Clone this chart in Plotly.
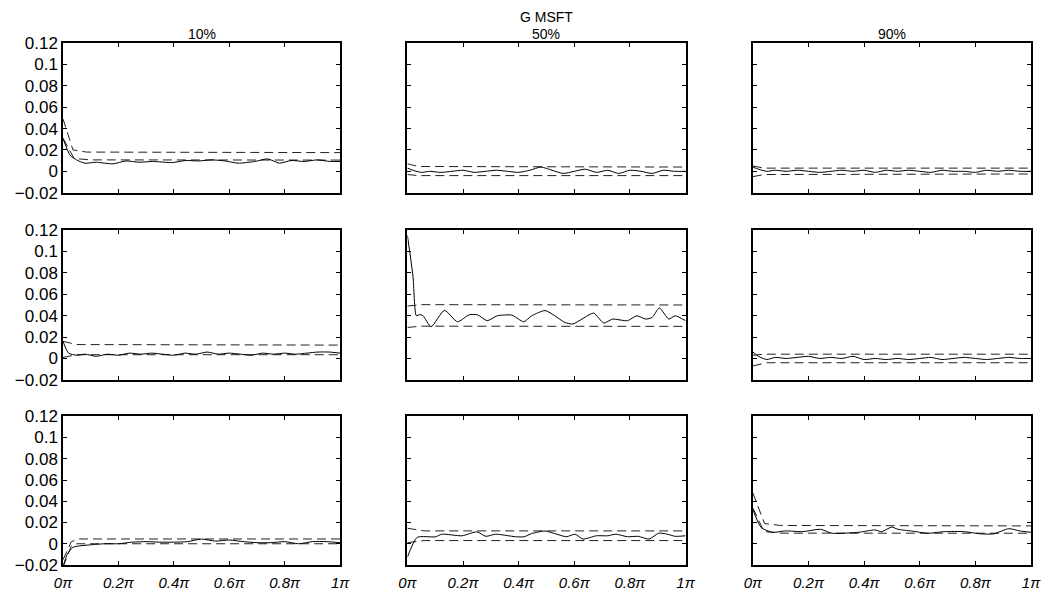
import plotly.graph_objects as go

# ---------------- data ----------------
col_titles = ["10%", "50%", "90%"]
main_title = "G MSFT"
x_tickvals = [0, 0.2, 0.4, 0.6, 0.8, 1.0]
x_ticktext = ["0π", "0.2π", "0.4π", "0.6π", "0.8π", "1π"]
y_tickvals = [-0.02, 0, 0.02, 0.04, 0.06, 0.08, 0.1, 0.12]
y_ticktext = ["−0.02", "0", "0.02", "0.04", "0.06", "0.08", "0.1", "0.12"]

# row 1, col 1
r1c1_x = [0, 0.025, 0.049, 0.079, 0.12, 0.18, 0.227, 0.275, 0.323, 0.394, 0.442, 0.489, 0.537,
          0.585, 0.632, 0.692, 0.739, 0.781, 0.823, 0.87, 0.918, 0.964, 1.0]
r1c1_est = [0.0307, 0.0153, 0.0107, 0.0076, 0.0085, 0.007, 0.0097, 0.0085, 0.0092, 0.0082, 0.0101,
            0.0097, 0.0107, 0.0097, 0.0076, 0.0092, 0.0116, 0.0076, 0.0101, 0.0092, 0.0107, 0.0092, 0.0092]
r1c1_up_x = [0, 0.036, 0.085, 1.0]
r1c1_up = [0.049, 0.020, 0.018, 0.0175]
r1c1_lo_x = [0, 0.04, 0.1, 1.0]
r1c1_lo = [0.031, 0.012, 0.0107, 0.0105]

# row 1, col 2
r1c2_x = [0, 0.02, 0.05, 0.08, 0.12, 0.16, 0.2, 0.24, 0.28, 0.32, 0.36, 0.4, 0.44, 0.48, 0.52,
          0.56, 0.6, 0.64, 0.68, 0.72, 0.76, 0.8, 0.84, 0.88, 0.92, 0.96, 1.0]
r1c2_est = [0.003, 0.001, -0.001, 0.0, -0.001, 0.0, 0.001, -0.001, 0.0, 0.001, 0.0, -0.001, 0.001,
            0.004, 0.001, -0.002, 0.0, 0.002, -0.001, 0.001, -0.002, 0.001, 0.0, -0.002, 0.001, 0.0, 0.0]
r1c2_up_x = [0, 0.04, 1.0]
r1c2_up = [0.007, 0.0045, 0.004]
r1c2_lo_x = [0, 0.04, 1.0]
r1c2_lo = [-0.003, -0.004, -0.004]

# row 1, col 3
r1c3_x = [0, 0.02, 0.05, 0.08, 0.12, 0.16, 0.2, 0.24, 0.28, 0.32, 0.36, 0.4, 0.44, 0.48, 0.52,
          0.56, 0.6, 0.64, 0.68, 0.72, 0.76, 0.8, 0.84, 0.88, 0.92, 0.96, 1.0]
r1c3_est = [0.004, 0.002, 0.0, 0.001, 0.0, 0.001, 0.0, -0.001, 0.0, 0.001, 0.0, 0.001, -0.001, 0.001,
            0.0, 0.001, 0.0, -0.001, 0.001, 0.0, 0.0, -0.001, 0.001, 0.0, 0.001, 0.0, 0.0]
r1c3_up_x = [0, 0.04, 1.0]
r1c3_up = [0.005, 0.003, 0.003]
r1c3_lo_x = [0, 0.04, 1.0]
r1c3_lo = [-0.005, -0.003, -0.0025]

# row 2, col 1
r2c1_x = [0, 0.02, 0.05, 0.08, 0.12, 0.16, 0.2, 0.24, 0.28, 0.32, 0.36, 0.4, 0.44, 0.48, 0.52,
          0.56, 0.6, 0.64, 0.68, 0.72, 0.76, 0.8, 0.84, 0.88, 0.92, 0.96, 1.0]
r2c1_est = [0.016, 0.005, 0.003, 0.004, 0.002, 0.004, 0.003, 0.005, 0.004, 0.005, 0.004, 0.003, 0.005,
            0.004, 0.006, 0.004, 0.005, 0.004, 0.003, 0.005, 0.004, 0.005, 0.004, 0.005, 0.006, 0.006, 0.005]
r2c1_up_x = [0, 0.05, 1.0]
r2c1_up = [0.016, 0.013, 0.0125]
r2c1_lo_x = [0, 0.05, 1.0]
r2c1_lo = [0.001, 0.0035, 0.0035]

# row 2, col 2
r2c2_x = [0, 0.02, 0.032, 0.044, 0.056, 0.085, 0.133, 0.18, 0.222, 0.252, 0.287, 0.323, 0.376,
          0.418, 0.447, 0.495, 0.53, 0.566, 0.595, 0.631, 0.67, 0.706, 0.738, 0.791, 0.825, 0.857,
          0.88, 0.906, 0.94, 0.963, 1.0]
r2c2_est = [0.115, 0.077, 0.040, 0.041, 0.040, 0.0297, 0.045, 0.0343, 0.0408, 0.0408, 0.0353, 0.0399,
            0.0405, 0.0343, 0.0399, 0.0448, 0.0399, 0.0337, 0.0322, 0.0374, 0.0424, 0.0331, 0.0368,
            0.0353, 0.0399, 0.0368, 0.0384, 0.0473, 0.0368, 0.0399, 0.0353]
r2c2_up_x = [0, 0.05, 1.0]
r2c2_up = [0.049, 0.0503, 0.050]
r2c2_lo_x = [0, 0.05, 1.0]
r2c2_lo = [0.029, 0.0302, 0.030]

# row 2, col 3
r2c3_x = [0, 0.02, 0.05, 0.08, 0.12, 0.16, 0.2, 0.24, 0.28, 0.32, 0.36, 0.4, 0.44, 0.48, 0.52,
          0.56, 0.6, 0.64, 0.68, 0.72, 0.76, 0.8, 0.84, 0.88, 0.92, 0.96, 1.0]
r2c3_est = [0.006, 0.002, -0.001, 0.001, 0.0, 0.001, 0.002, 0.0, 0.001, 0.0, 0.002, -0.001, 0.0,
            -0.001, 0.0, -0.001, 0.0, 0.001, -0.001, 0.0, 0.001, 0.0, -0.001, 0.0, 0.001, 0.0, 0.0]
r2c3_up_x = [0, 0.04, 1.0]
r2c3_up = [0.003, 0.004, 0.004]
r2c3_lo_x = [0, 0.05, 1.0]
r2c3_lo = [-0.007, -0.004, -0.004]

# row 3, col 1
r3c1_x = [0, 0.015, 0.036, 0.06, 0.1, 0.15, 0.2, 0.25, 0.3, 0.35, 0.4, 0.45, 0.5, 0.55, 0.6,
          0.65, 0.7, 0.75, 0.8, 0.85, 0.9, 0.95, 1.0]
r3c1_est = [-0.022, -0.01, -0.0033, -0.002, -0.001, 0.0, 0.0, 0.0015, 0.002, 0.0015, 0.0015, 0.002,
            0.0044, 0.0025, 0.0035, 0.002, 0.001, 0.001, 0.002, 0.0, 0.002, 0.002, 0.001]
r3c1_up_x = [0, 0.03, 0.06, 1.0]
r3c1_up = [-0.015, 0.002, 0.0045, 0.0045]
r3c1_lo_x = [0, 0.03, 0.05, 1.0]
r3c1_lo = [-0.022, -0.002, 0.0, 0.0]

# row 3, col 2
r3c2_x = [0, 0.035, 0.1, 0.125, 0.196, 0.25, 0.282, 0.317, 0.389, 0.42, 0.447, 0.495, 0.537, 0.572,
          0.603, 0.631, 0.679, 0.72, 0.75, 0.791, 0.83, 0.869, 0.904, 0.934, 0.963, 1.0]
r3c2_est = [-0.0126, 0.006, 0.0065, 0.009, 0.0075, 0.0112, 0.007, 0.009, 0.0066, 0.0066, 0.0096,
            0.012, 0.009, 0.0066, 0.009, 0.0044, 0.0075, 0.0075, 0.009, 0.0066, 0.007, 0.0044,
            0.010, 0.009, 0.007, 0.0075]
r3c2_up_x = [0, 0.06, 1.0]
r3c2_up = [0.0146, 0.0121, 0.0121]
r3c2_lo_x = [0, 0.06, 1.0]
r3c2_lo = [0.001, 0.003, 0.003]

# row 3, col 3
r3c3_x = [0, 0.03, 0.071, 0.118, 0.178, 0.243, 0.285, 0.38, 0.439, 0.463, 0.499, 0.522, 0.57,
          0.629, 0.689, 0.76, 0.819, 0.866, 0.92, 0.961, 1.0]
r3c3_est = [0.032, 0.0152, 0.0108, 0.0121, 0.0114, 0.0136, 0.0099, 0.0108, 0.013, 0.0114, 0.0157,
            0.0136, 0.012, 0.0099, 0.0114, 0.0114, 0.0093, 0.0093, 0.0142, 0.012, 0.0108]
r3c3_up_x = [0, 0.042, 0.1, 1.0]
r3c3_up = [0.0477, 0.019, 0.0172, 0.0168]
r3c3_lo_x = [0, 0.04, 0.1, 1.0]
r3c3_lo = [0.0337, 0.0115, 0.0100, 0.0099]

panels = [
    [(r1c1_x, r1c1_est, r1c1_up_x, r1c1_up, r1c1_lo_x, r1c1_lo),
     (r1c2_x, r1c2_est, r1c2_up_x, r1c2_up, r1c2_lo_x, r1c2_lo),
     (r1c3_x, r1c3_est, r1c3_up_x, r1c3_up, r1c3_lo_x, r1c3_lo)],
    [(r2c1_x, r2c1_est, r2c1_up_x, r2c1_up, r2c1_lo_x, r2c1_lo),
     (r2c2_x, r2c2_est, r2c2_up_x, r2c2_up, r2c2_lo_x, r2c2_lo),
     (r2c3_x, r2c3_est, r2c3_up_x, r2c3_up, r2c3_lo_x, r2c3_lo)],
    [(r3c1_x, r3c1_est, r3c1_up_x, r3c1_up, r3c1_lo_x, r3c1_lo),
     (r3c2_x, r3c2_est, r3c2_up_x, r3c2_up, r3c2_lo_x, r3c2_lo),
     (r3c3_x, r3c3_est, r3c3_up_x, r3c3_up, r3c3_lo_x, r3c3_lo)],
]

# ---------------- layout ----------------
# the page body keeps its default 8px margin on every side, so the figure is
# sized so that the whole page is exactly the 1050x600 window
W, H = 1034, 584
ML, MR, MT, MB = 55, 1, 35, 19
x_domains = [[0.0, 0.2863], [0.3558, 0.6431], [0.7127, 1.0]]
y_domains = [[0.7132, 1.0], [0.3547, 0.6415], [0.0, 0.2849]]

FONT = "Liberation Sans, Arial, Helvetica, sans-serif"
fig = go.Figure()
layout = dict(
    width=W, height=H, autosize=False,
    margin=dict(l=ML, r=MR, t=MT, b=MB, pad=0),
    paper_bgcolor="white", plot_bgcolor="white",
    showlegend=False,
    font=dict(family=FONT, size=16, color="black"),
)

dash_style = "9px,5px"
idx = 0
for r in range(3):
    for c in range(3):
        idx += 1
        xa = "x" if idx == 1 else f"x{idx}"
        ya = "y" if idx == 1 else f"y{idx}"
        px, est, ux, up, lx, lo = panels[r][c]
        fig.add_trace(go.Scatter(x=ux, y=up, mode="lines", xaxis=xa, yaxis=ya,
                                 line=dict(color="#222222", width=1, dash=dash_style),
                                 hoverinfo="skip", cliponaxis=True))
        fig.add_trace(go.Scatter(x=lx, y=lo, mode="lines", xaxis=xa, yaxis=ya,
                                 line=dict(color="#222222", width=1, dash=dash_style),
                                 hoverinfo="skip", cliponaxis=True))
        fig.add_trace(go.Scatter(x=px, y=est, mode="lines", xaxis=xa, yaxis=ya,
                                 line=dict(color="black", width=1, shape="spline", smoothing=0.6),
                                 hoverinfo="skip", cliponaxis=True))
        xkey = "xaxis" if idx == 1 else f"xaxis{idx}"
        ykey = "yaxis" if idx == 1 else f"yaxis{idx}"
        layout[xkey] = dict(
            domain=x_domains[c], anchor=ya, range=[0, 1],
            tickmode="array", tickvals=x_tickvals,
            ticktext=[f"<i>{t}</i>" for t in x_ticktext],
            showticklabels=(r == 2), tickangle=0, ticklabelstandoff=3,
            ticks="inside", ticklen=4, tickwidth=1, tickcolor="black",
            showline=True, linecolor="black", linewidth=1.5, mirror="ticks",
            showgrid=False, zeroline=False, fixedrange=True,
            tickfont=dict(family=FONT, size=15, color="black"),
        )
        layout[ykey] = dict(
            domain=y_domains[r], anchor=xa, range=[-0.02, 0.12],
            tickmode="array", tickvals=y_tickvals, ticktext=y_ticktext,
            showticklabels=(c == 0),
            ticks="inside", ticklen=4, tickwidth=1, tickcolor="black",
            showline=True, linecolor="black", linewidth=1.5, mirror="ticks",
            showgrid=False, zeroline=False, fixedrange=True,
            tickfont=dict(family=FONT, size=17, color="black"),
        )

annotations = []
for c in range(3):
    cx = (x_domains[c][0] + x_domains[c][1]) / 2
    annotations.append(dict(text=col_titles[c], x=cx, y=1.0, xref="paper", yref="paper",
                            xanchor="center", yanchor="bottom", yshift=0, borderpad=0,
                            showarrow=False, font=dict(family=FONT, size=14, color="black")))
annotations.append(dict(text=main_title, x=(x_domains[1][0] + x_domains[1][1]) / 2, y=1.0,
                        xref="paper", yref="paper", xanchor="center", yanchor="top",
                        yshift=MT, borderpad=0, showarrow=False,
                        font=dict(family=FONT, size=14, color="black")))
layout["annotations"] = annotations

fig.update_layout(**layout)
fig.write_html("out.html")
